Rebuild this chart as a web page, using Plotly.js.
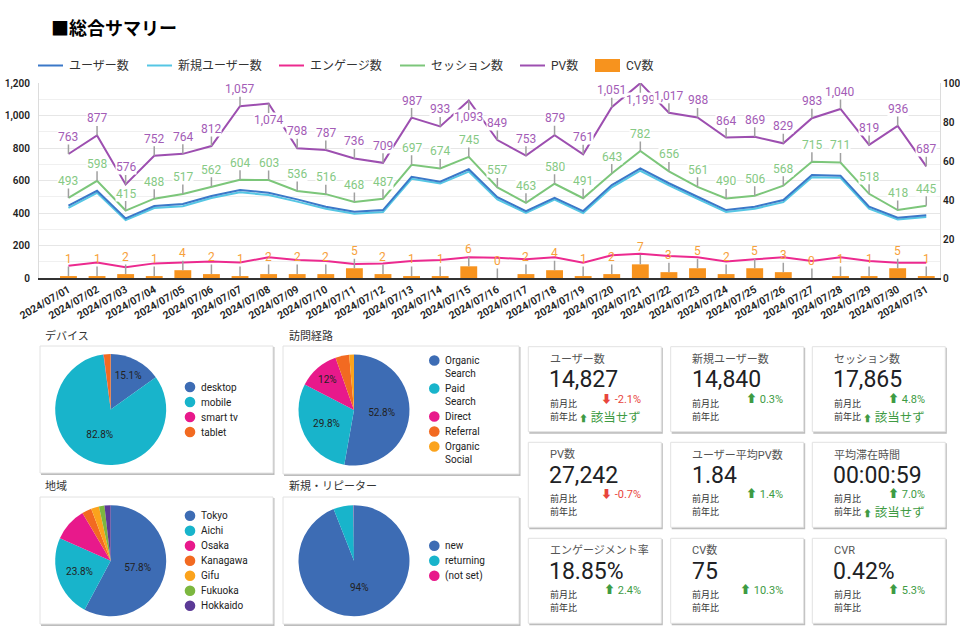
<!DOCTYPE html>
<html><head><meta charset="utf-8">
<script src="https://cdn.plot.ly/plotly-3.0.1.min.js"></script>
<style>html,body{margin:0;padding:0;background:#fff;}#chart{width:960px;height:637px;}</style>
</head><body><div id="chart"></div>
<script>
// ---------- data ----------
const dates = ['2024/07/01','2024/07/02','2024/07/03','2024/07/04','2024/07/05','2024/07/06','2024/07/07','2024/07/08','2024/07/09','2024/07/10','2024/07/11','2024/07/12','2024/07/13','2024/07/14','2024/07/15','2024/07/16','2024/07/17','2024/07/18','2024/07/19','2024/07/20','2024/07/21','2024/07/22','2024/07/23','2024/07/24','2024/07/25','2024/07/26','2024/07/27','2024/07/28','2024/07/29','2024/07/30','2024/07/31'];
const users     = [445,537,367,443,455,505,541,525,484,439,408,418,623,593,669,497,412,494,412,572,675,583,500,418,439,480,634,630,439,371,386];
const newUsers  = [432,524,356,431,442,492,527,511,470,426,396,406,610,581,655,484,400,482,400,558,660,570,487,406,426,467,620,617,427,360,375];
const engaged   = [76,96,66,90,96,101,96,127,111,105,86,90,105,111,127,125,115,127,94,140,150,135,127,101,115,127,105,127,105,94,94];
const sessions  = [493,598,415,488,517,562,604,603,536,516,468,487,697,674,745,557,463,580,491,643,782,656,561,490,506,568,715,711,518,418,445];
const pageviews = [763,877,576,752,764,812,1057,1074,798,787,736,709,987,933,1093,849,753,879,761,1051,1199,1017,988,864,869,829,983,1040,819,936,687];
const conversions = [1,1,2,1,4,2,1,2,2,2,5,2,1,1,6,0,2,4,1,2,7,3,5,2,5,3,0,1,1,5,1];

const seriesNames = ['ユーザー数','新規ユーザー数','エンゲージ数','セッション数','PV数','CV数'];

const deviceLabels = ['desktop','mobile','smart tv','tablet'];
const deviceValues = [15.1,82.8,0.1,2.0];
const channelLabels = ['Organic Search','Paid Search','Direct','Referral','Organic Social'];
const channelValues = [52.8,29.8,12.0,4.0,1.4];
const regionLabels = ['Tokyo','Aichi','Osaka','Kanagawa','Gifu','Fukuoka','Hokkaido'];
const regionValues = [57.8,23.8,9.9,2.8,2.3,1.6,1.8];
const visitorLabels = ['new','returning','(not set)'];
const visitorValues = [94.0,5.9,0.1];
const pieTitles = ['デバイス','訪問経路','地域','新規・リピーター'];

const kpiTitles = ['ユーザー数','新規ユーザー数','セッション数','PV数','ユーザー平均PV数','平均滞在時間','エンゲージメント率','CV数','CVR'];
const kpiValues = ['14,827','14,840','17,865','27,242','1.84','00:00:59','18.85%','75','0.42%'];
const kpiMoM = ['-2.1%','0.3%','4.8%','-0.7%','1.4%','7.0%','2.4%','10.3%','5.3%'];
const kpiYoY = ['該当せず','','該当せず','','','該当せず','','',''];

// ---------- styles ----------
const W = 960, H = 637;
const PX = x => x / W, PY = y => 1 - y / H;
const FONT = "Roboto, 'Noto Sans CJK JP', sans-serif";
const JP = "'Noto Sans CJK JP', Roboto, sans-serif";
const lineColors = ['#3b78c8','#55c6e4','#ec2a8f','#7cc67a','#9d4fb0','#f7931e'];
const pieColors = ['#3d6cb4','#18b4cb','#e8198b','#f26a21','#fba31c','#7cb73f','#5b3a96'];

const traces = [];
const annotations = [];
const shapes = [];

// ---------- main chart ----------
traces.push({type:'bar', x:dates, y:conversions, yaxis:'y2', name:seriesNames[5],
  marker:{color:lineColors[5]}, hoverinfo:'skip'});
const lineSeries = [[engaged,2],[newUsers,1],[users,0],[sessions,3],[pageviews,4]];
lineSeries.forEach(([vals,k]) => traces.push({type:'scatter', mode:'lines', x:dates, y:vals,
  name:seriesNames[k], line:{color:lineColors[k], width:2}, hoverinfo:'skip'}));

function pointLabels(values, yref, color, below, bg) {
  values.forEach((v, i) => annotations.push({
    x:i, y:v, xref:'x', yref:yref, text:v.toLocaleString('en-US'),
    showarrow:true, arrowhead:0, arrowwidth:1.5, arrowcolor:'#a0a0a0',
    ax:0, ay: below(v) ? 17 : -17, standoff:0,
    font:{family:FONT, size:12, color:color}, bgcolor:bg, borderpad:0
  }));
}
pointLabels(sessions, 'y', '#86c984', () => false, '#ffffff');
pointLabels(pageviews, 'y', '#a35cb6', v => v > 1060, '#ffffff');
pointLabels(conversions, 'y2', '#f7a13a', () => false, 'rgba(0,0,0,0)');

// main title
annotations.push({xref:'paper', yref:'paper', x:PX(49), y:PY(27), xanchor:'left', yanchor:'middle',
  text:'<b>■総合サマリー</b>', showarrow:false, font:{family:JP, size:18, color:'#000'}});

// custom main legend
const legendX = [38,147,279,400,520,595];
seriesNames.forEach((n, k) => {
  const x0 = legendX[k];
  if (k === 5) {
    shapes.push({type:'rect', xref:'paper', yref:'paper', x0:PX(x0), x1:PX(x0+25), y0:PY(72), y1:PY(59),
      fillcolor:lineColors[k], line:{width:0}});
  } else {
    shapes.push({type:'line', xref:'paper', yref:'paper', x0:PX(x0), x1:PX(x0+25), y0:PY(65.5), y1:PY(65.5),
      line:{color:lineColors[k], width:2}});
  }
  annotations.push({xref:'paper', yref:'paper', x:PX(x0+29), y:PY(65.5), xanchor:'left', yanchor:'middle',
    text:n, showarrow:false, font:{family:FONT, size:12, color:'#333'}});
});

// ---------- cards helper ----------
function card(L, T, R, B) {
  shapes.push({type:'rect', xref:'paper', yref:'paper', layer:'below', x0:PX(L+1), x1:PX(R+1.5), y0:PY(B+2), y1:PY(T+1),
    fillcolor:'#bdbdbd', line:{width:0}});
  shapes.push({type:'rect', xref:'paper', yref:'paper', layer:'below', x0:PX(L), x1:PX(R), y0:PY(B), y1:PY(T),
    fillcolor:'#ffffff', line:{color:'#e2e2e2', width:1}});
}

// ---------- pies ----------
const pies = [
  {labels:deviceLabels, values:deviceValues, cx:110.7, cy:409.5, lx:190, wrap:false, card:[40,346,273,473], tx:43, ty:334.5},
  {labels:channelLabels, values:channelValues, cx:354, cy:410, lx:434.3, wrap:true, card:[283,346,519,474], tx:287, ty:334.5},
  {labels:regionLabels, values:regionValues, cx:110.7, cy:560.7, lx:190, wrap:false, card:[40,497,273,624], tx:43, ty:484.7},
  {labels:visitorLabels, values:visitorValues, cx:354, cy:560.7, lx:434.3, wrap:false, card:[283,497,519,624], tx:287, ty:484.7}
];
const R = 55.5;
pies.forEach((p, pi) => {
  card(...p.card);
  annotations.push({xref:'paper', yref:'paper', x:PX(p.tx), y:PY(p.ty), xanchor:'left', yanchor:'middle',
    text:pieTitles[pi], showarrow:false, font:{family:JP, size:11, color:'#333'}});
  const total = p.values.reduce((a,b)=>a+b,0);
  traces.push({type:'pie', labels:p.labels, values:p.values, sort:false, direction:'clockwise', rotation:0,
    domain:{x:[PX(p.cx-R), PX(p.cx+R)], y:[PY(p.cy+R), PY(p.cy-R)]},
    marker:{colors:pieColors.slice(0,p.labels.length), line:{width:0}},
    texttemplate:p.values.map(v => v/total >= 0.1 ? '%{percent}' : ''),
    textposition:'inside', insidetextorientation:'horizontal',
    textfont:{family:FONT, size:10, color:'#222'}, showlegend:false, hoverinfo:'skip'});
  // legend
  const lines = p.labels.map(l => p.wrap ? l.split(' ') : [l]);
  const ys = []; let y = 0;
  lines.forEach((ls, k) => { if (k > 0) y += 15; ys.push(y); y += 13*(ls.length-1); });
  const y0 = p.cy - y/2;
  lines.forEach((ls, k) => {
    const yy = y0 + ys[k];
    shapes.push({type:'circle', xref:'paper', yref:'paper', xsizemode:'pixel', ysizemode:'pixel',
      xanchor:PX(p.lx), yanchor:PY(yy), x0:-5.3, x1:5.3, y0:-5.3, y1:5.3,
      fillcolor:pieColors[k], line:{width:0}});
    ls.forEach((t, j) => annotations.push({xref:'paper', yref:'paper', x:PX(p.lx+8.5), y:PY(yy+13*j),
      xanchor:'left', yanchor:'middle', text:t, showarrow:false, font:{family:FONT, size:10, color:'#222'}}));
  });
});

// ---------- KPI cards ----------
const colL = [528.3, 670.7, 812.3], rowT = [346.7, 442.3, 538.3];
const CW = 133, CH = 85;
kpiTitles.forEach((t, i) => {
  const L = colL[i%3], T = rowT[Math.floor(i/3)];
  card(L, T, L+CW, T+CH);
  const A = (x, y, text, size, color, anchor, fam) => annotations.push({xref:'paper', yref:'paper', x:PX(x), y:PY(y),
    xanchor:anchor||'left', yanchor:'middle', text:text, showarrow:false, font:{family:fam||FONT, size:size, color:color}});
  A(L+19.5, T+12.5, t, 11, '#555');
  A(L+19, T+33, kpiValues[i], 23, '#202124');
  A(L+19.5, T+56.5, '前月比', 9, '#333', 'left', JP);
  A(L+19.5, T+69.5, '前年比', 9, '#333', 'left', JP);
  const neg = kpiMoM[i].startsWith('-');
  A(L+114.5, T+52.5, (neg ? '⬇ ' : '⬆ ') + kpiMoM[i], 11, neg ? '#e8453c' : '#3e9b43', 'right');
  if (kpiYoY[i]) A(L+115, T+69.5, '<span style="font-size:9px">⬆</span> ' + kpiYoY[i], 12.5, '#3e9b43', 'right', JP);
});

// ---------- layout ----------
const layout = {
  width:W, height:H, margin:{l:0, r:0, t:0, b:0},
  paper_bgcolor:'#ffffff', plot_bgcolor:'rgba(0,0,0,0)',
  showlegend:false, bargap:0.41,
  font:{family:FONT, color:'#222'},
  xaxis:{domain:[PX(39), PX(940)], type:'category', range:[-1.03, 30.48], tickangle:-30,
    tickfont:{family:FONT, size:10.5, color:'#222', weight:600}, showline:true, linecolor:'#333', linewidth:1.5,
    showgrid:false, ticks:'', anchor:'y', fixedrange:true},
  yaxis:{domain:[PY(278), PY(83)], range:[0,1200], dtick:200, tickformat:',d',
    tickfont:{family:FONT, size:10, color:'#222', weight:600}, showline:true, linecolor:'#dcdcdc', linewidth:1,
    gridcolor:'#e6e6e6', gridwidth:1, zeroline:false, ticklabelstandoff:6,
    minor:{dtick:100, showgrid:true, gridcolor:'#f0f0f0', gridwidth:1}, fixedrange:true},
  yaxis2:{overlaying:'y', side:'right', range:[0,100], dtick:20,
    tickfont:{family:FONT, size:10, color:'#222', weight:600}, showline:true, linecolor:'#dcdcdc', linewidth:1,
    showgrid:false, zeroline:false, fixedrange:true},
  shapes:shapes, annotations:annotations
};
Plotly.newPlot('chart', traces, layout, {displayModeBar:false, staticPlot:true});
</script></body></html>
